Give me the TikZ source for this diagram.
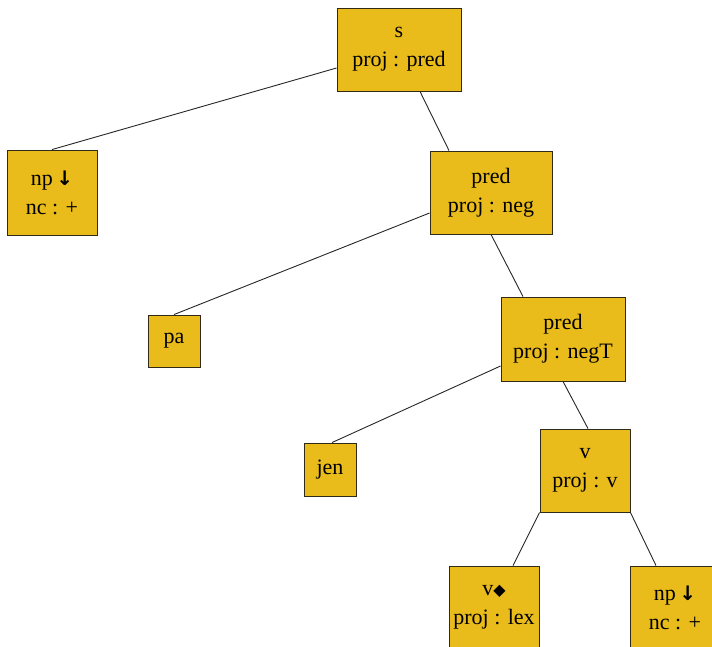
\documentclass[tikz,border=0pt]{standalone}
\usepackage{fontspec}
\setmainfont{Liberation Serif}
\newfontfamily\symfont{DejaVu Sans}
\definecolor{boxfill}{RGB}{233,188,28}
\definecolor{boxline}{RGB}{50,42,25}
\begin{document}
\begin{tikzpicture}[x=1pt,y=1pt,
  tbox/.style={draw=boxline,fill=boxfill,line width=0.9pt,inner sep=0pt,align=center,
    font=\fontsize{22}{29}\selectfont},
  edge/.style={draw=black!85,line width=0.9pt}]
\useasboundingbox (0,0) rectangle (712,-646);
\newcommand{\darr}{{\symfont\bfseries\fontsize{20}{20}\selectfont ↓}}
\newcommand{\diam}{{\symfont\fontsize{16}{16}\selectfont ◆}}
\node[tbox,minimum width=124,minimum height=83] (s) at (399,-49.5) {s\\proj : pred};
\node[tbox,minimum width=90,minimum height=85] (np1) at (52,-192.5) {np\,\darr\\nc : +};
\node[tbox,minimum width=122,minimum height=83] (pred1) at (491,-192.5) {pred\\proj : neg};
\node[tbox,minimum width=52,minimum height=52] (pa) at (174,-341) {pa};
\node[tbox,minimum width=124,minimum height=84] (pred2) at (563,-339) {pred\\proj : negT};
\node[tbox,minimum width=52,minimum height=53] (jen) at (330,-469.5) {jen};
\node[tbox,minimum width=90,minimum height=83] (v) at (585,-470.5) {v\\proj : v};
\node[tbox,minimum width=90,minimum height=83] (vd) at (494,-607.5) {v\diam\\proj : lex};
\node[tbox,minimum width=90,minimum height=83] (np2) at (675,-607.5) {np\,\darr\\nc : +};
\draw[edge] ([yshift=-18.5]s.west) -- (np1.north);
\draw[edge] ([xshift=21]s.south) -- ([xshift=-42]pred1.north);
\draw[edge] ([yshift=-20.5]pred1.west) -- (pa.north);
\draw[edge] (pred1.south) -- ([xshift=-40]pred2.north);
\draw[edge] ([yshift=-27]pred2.west) -- ([xshift=2]jen.north);
\draw[edge] (pred2.south) -- ([xshift=3]v.north);
\draw[edge] (v.south west) -- ([xshift=19]vd.north);
\draw[edge] (v.south east) -- ([xshift=-19]np2.north);
\end{tikzpicture}
\end{document}
